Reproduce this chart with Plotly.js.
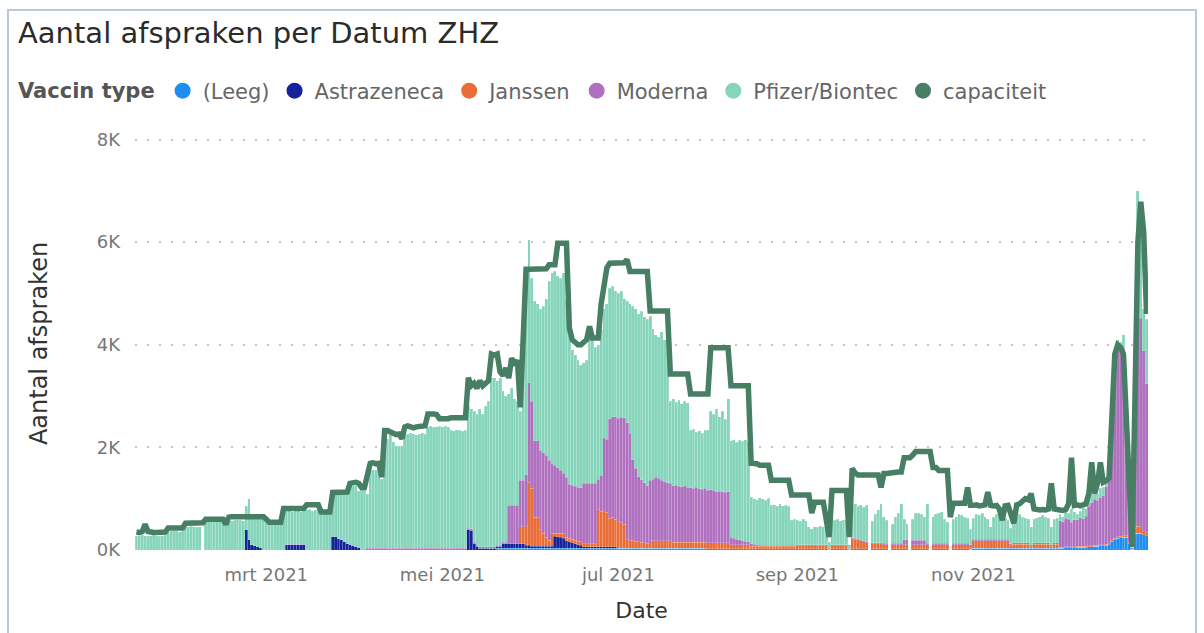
<!DOCTYPE html>
<html>
<head>
<meta charset="utf-8">
<script src="https://cdn.plot.ly/plotly-3.0.1.min.js"></script>
<style>
  html, body { margin: 0; padding: 0; background: #ffffff; }
  #chart { position: absolute; left: 0; top: 0; width: 1204px; height: 633px; }
  #frame { position: absolute; left: 7px; top: 9px; width: 1190px; height: 640px;
           border: 2px solid #b9c9da; box-sizing: border-box; pointer-events: none; }
</style>
</head>
<body>
<div id="chart"></div>
<div id="frame"></div>
<script>
// ---- Data (daily, 15 Jan 2021 .. 31 Dec 2021) ----
const startDate = '2021-01-15';
const dayCount = 351;

const seriesNames = ['(Leeg)', 'Astrazeneca', 'Janssen', 'Moderna', 'Pfizer/Biontec'];
const capacityName = 'capaciteit';

const leeg = [
  /*jan*/0,0,0,0,0,0,0,0,0,0,0,0,0,0,0,0,0,
  /*feb*/0,0,0,0,0,0,0,0,0,0,0,0,0,0,0,0,0,0,0,0,0,0,0,0,0,0,0,0,
  /*mrt*/0,0,0,0,0,0,0,0,0,0,0,0,0,0,0,0,0,0,0,0,0,0,0,0,0,0,0,0,0,0,0,
  /*apr*/0,0,0,0,0,0,0,0,0,0,0,0,0,0,0,0,0,0,0,0,0,0,0,0,0,0,0,0,0,0,
  /*mei*/0,0,0,0,0,0,0,0,0,0,0,0,0,0,0,0,0,0,0,30,30,30,30,30,30,30,30,30,30,30,30,
  /*jun*/30,30,30,30,30,30,30,30,30,30,30,30,30,30,30,30,30,30,30,30,30,30,30,30,30,30,30,30,30,30,
  /*jul*/30,30,30,30,30,30,30,30,30,30,30,30,30,30,30,30,30,30,30,30,30,30,30,30,30,30,30,30,30,30,30,
  /*aug*/20,20,20,20,20,20,20,20,20,20,20,20,20,20,20,20,20,20,20,20,20,20,20,20,20,20,20,20,20,20,20,
  /*sep*/20,20,20,20,20,20,20,20,20,20,20,10,20,20,20,20,20,20,10,20,20,20,20,20,20,0,20,20,20,20,
  /*okt*/20,20,0,20,20,20,20,20,20,0,20,20,20,20,20,20,0,20,20,20,20,20,20,0,20,20,20,20,20,20,10,
  /*nov*/30,30,30,30,30,30,30,30,30,30,30,30,30,30,30,30,30,30,30,30,30,30,30,30,30,30,30,30,30,30,
  /*dec*/30,30,40,40,40,40,50,50,50,50,60,60,70,70,80,80,90,100,170,200,230,240,250,250,120,10,300,330,330,300,280
];

const astrazeneca = [
  /*jan*/0,0,0,0,0,0,0,0,0,0,0,0,0,0,0,0,0,
  /*feb*/0,0,0,0,0,0,0,0,0,0,0,0,0,0,0,0,0,0,0,0,0,390,200,100,80,60,50,0,
  /*mrt*/0,0,0,0,0,0,0,110,110,110,110,110,110,110,0,0,0,0,0,0,0,0,0,270,260,230,200,160,130,110,90,
  /*apr*/70,50,0,0,0,0,0,0,0,0,0,0,0,0,0,0,0,0,0,0,0,0,0,0,0,0,0,0,0,0,
  /*mei*/0,0,0,0,0,0,0,0,0,390,380,120,60,30,30,30,30,30,30,30,30,90,90,90,90,90,90,90,90,60,60,
  /*jun*/40,40,40,40,40,40,40,40,240,230,220,200,150,130,110,90,70,60,30,30,30,30,30,30,30,30,30,30,30,30,
  /*jul*/0,0,0,0,0,0,0,0,0,0,0,0,0,0,0,0,0,0,0,0,0,0,0,0,0,0,0,0,0,0,0,
  /*aug*/0,0,0,0,0,0,0,0,0,0,0,0,0,0,0,0,0,0,0,0,0,0,0,0,0,0,0,0,0,0,0,
  /*sep*/0,0,0,0,0,0,0,0,0,0,0,0,0,0,0,0,0,0,0,0,0,0,0,0,0,0,0,0,0,0,
  /*okt*/0,0,0,0,0,0,0,0,0,0,0,0,0,0,0,0,0,0,0,0,0,0,0,0,0,0,0,0,0,0,0,
  /*nov*/0,0,0,0,0,0,0,0,0,0,0,0,0,0,0,0,0,0,0,0,0,0,0,0,0,0,0,0,0,0,
  /*dec*/0,0,0,0,0,0,0,0,0,0,0,0,0,0,0,0,0,0,0,0,0,0,0,0,0,0,0,0,0,0,0
];

const janssen = [
  /*jan*/0,0,0,0,0,0,0,0,0,0,0,0,0,0,0,0,0,
  /*feb*/0,0,0,0,0,0,0,0,0,0,0,0,0,0,0,0,0,0,0,0,0,0,0,0,0,0,0,0,
  /*mrt*/0,0,0,0,0,0,0,0,0,0,0,0,0,0,0,0,0,0,0,0,0,0,0,0,0,0,0,0,0,0,0,
  /*apr*/0,0,0,0,0,0,0,0,0,0,0,0,0,0,0,0,0,0,0,0,0,0,0,0,0,0,0,0,0,0,
  /*mei*/0,0,0,0,0,0,0,0,0,0,0,0,0,0,0,0,0,0,0,0,0,0,0,0,0,0,0,330,330,380,1230,
  /*jun*/1130,570,570,320,260,180,120,260,60,70,80,100,70,70,70,70,70,70,60,60,60,60,60,720,700,710,680,560,580,540,
  /*jul*/520,500,470,170,150,160,140,130,120,110,100,150,150,150,150,150,150,150,150,120,120,120,120,120,120,120,120,120,120,120,120,
  /*aug*/120,120,120,120,120,120,120,120,80,80,80,80,80,80,80,50,50,50,50,50,50,50,50,50,50,50,50,50,50,50,50,
  /*sep*/60,60,60,60,60,60,60,60,60,60,60,20,60,60,60,60,60,60,10,200,190,180,160,140,120,0,100,100,100,100,
  /*okt*/80,80,0,80,80,80,80,80,80,0,80,80,80,80,80,80,0,80,80,80,80,80,80,0,80,80,80,80,80,80,30,
  /*nov*/150,150,150,150,150,150,150,150,150,150,150,150,150,60,80,80,80,80,80,80,40,80,80,80,80,80,80,40,80,80,
  /*dec*/20,20,20,20,20,20,20,20,20,20,20,20,20,20,20,20,20,20,30,30,30,30,30,30,30,0,120,130,120,80,60
];

const moderna = [
  /*jan*/0,0,0,0,0,0,0,0,0,0,0,0,0,0,0,0,0,
  /*feb*/0,0,0,0,0,0,0,0,0,0,0,0,0,0,0,0,0,0,0,0,0,0,0,0,0,0,0,0,
  /*mrt*/0,0,0,0,0,0,0,0,0,0,0,0,0,0,0,0,0,0,0,0,0,0,0,0,0,0,0,0,0,0,0,
  /*apr*/0,0,0,0,30,30,30,30,30,30,30,30,30,30,30,30,30,30,30,30,30,30,30,30,30,30,30,30,30,30,
  /*mei*/30,30,30,30,30,30,30,30,30,30,30,30,30,30,30,30,30,30,30,30,30,30,30,750,750,750,750,910,910,1000,1940,
  /*jun*/1700,1490,1490,1550,1570,1600,1560,1360,1320,1270,1220,1170,1170,1050,1050,1050,1050,1050,1180,1180,1180,1180,1180,600,700,1420,1420,1940,1960,2000,
  /*jul*/2020,2060,2080,2280,2100,1570,1420,1270,1220,1170,1120,1180,1200,1240,1220,1180,1150,1130,1120,1100,1110,1090,1080,1100,1070,1060,1050,1070,1040,1030,1050,
  /*aug*/1020,1030,1020,1000,1010,1000,990,1000,150,130,110,100,80,70,60,50,40,30,20,20,20,20,20,20,20,20,20,20,20,20,20,
  /*sep*/20,20,20,20,20,20,20,20,20,20,20,10,20,20,20,20,20,20,10,20,20,20,20,20,20,0,20,20,20,20,
  /*okt*/30,30,0,30,30,30,30,100,100,0,90,90,90,90,90,30,0,30,30,30,30,30,30,0,30,30,30,30,30,30,60,
  /*nov*/30,30,30,30,30,30,30,30,30,30,30,30,30,30,30,30,30,30,30,30,30,30,30,30,30,30,30,30,30,30,
  /*dec*/520,500,560,540,480,530,520,560,540,590,770,840,900,880,920,960,1120,1780,2680,3550,3780,3700,3650,2150,880,30,2900,4170,4070,3500,2900
];

const pfizer = [
  /*jan*/270,280,290,280,270,280,290,280,270,280,290,360,370,380,370,360,370,
  /*feb*/440,450,460,450,440,450,0,550,560,570,560,550,560,570,480,580,570,580,590,580,570,460,800,550,520,540,550,600,
  /*mrt*/600,500,490,510,500,490,760,650,660,640,650,660,640,650,780,790,770,780,800,720,710,730,720,830,840,880,900,930,970,1140,1150,
  /*apr*/1180,1100,1240,1260,1070,1520,1530,1520,1540,1350,2120,2130,2220,2070,2000,1990,2000,2240,2230,2250,2240,2220,2240,2250,2230,2370,2380,2360,2370,2380,
  /*mei*/2370,2380,2360,2300,2290,2310,2300,2280,2300,2380,2340,2550,2560,2690,2590,2740,2840,3300,3300,3210,3260,2950,2850,2180,2280,2080,2030,1340,2640,4020,2790,
  /*jun*/2400,2720,2670,2760,2850,3050,3490,3710,3780,3750,3750,3900,3480,2920,2640,2560,2480,2390,2350,2400,2900,2800,2650,2620,2840,2510,2640,2540,2540,2450,
  /*jul*/2430,2450,2320,2370,2520,2990,3110,3170,3280,3240,3250,3200,2920,2780,2750,2890,2770,2840,1600,1700,1620,1680,1620,1650,1650,1120,1150,1080,1130,1100,1130,
  /*aug*/1170,1530,1490,1610,1450,1560,1420,1810,1880,1920,1890,1940,1940,1980,1940,910,890,880,930,910,880,920,780,790,760,810,770,780,760,490,510,
  /*sep*/480,460,500,470,350,300,350,340,360,350,480,110,460,480,500,470,490,480,70,630,670,630,680,650,710,0,420,560,640,760,
  /*okt*/520,450,0,370,520,590,770,400,300,0,410,530,530,510,460,770,0,520,570,590,620,470,420,0,470,520,570,550,510,490,300,
  /*nov*/410,490,470,510,440,390,240,430,490,470,440,410,370,300,460,510,560,500,480,460,350,460,480,510,540,500,480,350,460,480,
  /*dec*/130,100,160,120,260,160,110,130,210,140,150,180,160,130,180,160,170,100,70,70,60,80,270,120,70,10,180,2370,2180,820,1260
];

const capaciteit = [
  /*jan*/350,340,360,500,360,340,340,340,350,350,350,430,430,440,430,430,430,
  /*feb*/520,520,530,520,520,520,530,600,600,610,600,600,600,600,500,640,650,650,650,650,660,650,650,650,660,650,650,650,
  /*mrt*/600,540,540,540,540,540,810,810,810,810,810,810,810,810,880,880,880,880,880,740,740,740,740,1120,1120,1130,1120,1120,1130,1300,1310,
  /*apr*/1320,1300,1220,1220,1500,1690,1700,1680,1690,1420,2330,2330,2300,2270,2250,2260,2170,2400,2420,2400,2380,2400,2410,2400,2420,2650,2660,2650,2640,2560,
  /*mei*/2560,2550,2560,2580,2580,2580,2580,2580,2580,3360,3200,3250,3150,3300,3200,3250,3300,3820,3800,3820,3470,3400,3550,3350,3740,3600,3700,2780,4130,5470,5470,
  /*jun*/5470,5480,5470,5460,5470,5480,5560,5560,5560,5980,5980,5980,5980,4330,4100,4050,4000,4000,4050,4100,4360,4130,4130,4130,4790,5200,5500,5590,5590,5590,
  /*jul*/5590,5590,5600,5660,5430,5430,5430,5430,5430,5430,5430,4660,4660,4660,4660,4660,4660,4660,3430,3430,3430,3430,3430,3430,3430,3040,3040,3040,3040,3040,3040,
  /*aug*/3040,3940,3940,3940,3940,3940,3940,3940,3200,3200,3200,3200,3200,3200,3200,1690,1690,1680,1650,1650,1650,1650,1360,1360,1360,1360,1360,1360,1360,1070,1070,
  /*sep*/1070,1070,1070,1070,1070,720,930,930,930,930,600,250,1160,1160,1160,1160,1160,1160,250,1590,1500,1460,1460,1460,1460,1460,1460,1460,1460,1220,
  /*okt*/1490,1490,1500,1520,1520,1520,1520,1800,1800,1800,1850,1920,1920,1920,1920,1920,1920,1610,1610,1550,1550,1550,1550,640,910,910,910,910,910,1220,870,
  /*nov*/870,880,860,870,880,1130,870,860,870,800,580,860,870,700,520,880,900,950,1000,980,1100,800,780,780,790,780,800,1300,800,780,
  /*dec*/780,770,790,900,1800,870,880,860,870,900,1100,1710,1100,1300,1710,1320,1350,1400,2600,3820,4000,3950,3820,2580,1200,60,3000,6000,6790,6200,4600
];

const xTickVals = ['2021-03-01', '2021-05-01', '2021-07-01', '2021-09-01', '2021-11-01'];
const xTickText = ['mrt 2021', 'mei 2021', 'jul 2021', 'sep 2021', 'nov 2021'];
const yTickVals = [0, 2000, 4000, 6000, 8000];
const yTickText = ['0K', '2K', '4K', '6K', '8K'];

// ---- Build ----
const seriesValues = [leeg, astrazeneca, janssen, moderna, pfizer];
const seriesColors = ['#1E8EF5', '#14239C', '#E96D36', '#B070C0', '#86D5BB'];
const capacityColor = '#477F64';

const t0 = Date.parse(startDate + 'T00:00:00Z');
const dates = [];
for (let i = 0; i < dayCount; i++) {
  dates.push(new Date(t0 + i * 86400000).toISOString().slice(0, 10));
}

const traces = [];
seriesValues.forEach((vals, k) => {
  traces.push({
    type: 'bar', x: dates, y: vals, name: seriesNames[k],
    marker: { color: seriesColors[k], line: { width: 0.5, color: 'rgba(255,255,255,0.35)' } },
    showlegend: false
  });
});
traces.push({
  type: 'scatter', mode: 'lines', x: dates, y: capaciteit, name: capacityName,
  line: { color: capacityColor, width: 5.5, shape: 'linear' },
  showlegend: false
});
// legend entries (circle markers like the original)
seriesNames.concat([capacityName]).forEach((nm, k) => {
  traces.push({
    type: 'scatter', mode: 'markers', x: [null], y: [null], name: nm,
    marker: { color: k < 5 ? seriesColors[k] : capacityColor, size: 16, symbol: 'circle' },
    showlegend: true, hoverinfo: 'skip'
  });
});

const fontFam = '"DejaVu Sans", "Noto Sans", sans-serif';
const layout = {
  width: 1204, height: 633,
  paper_bgcolor: '#ffffff', plot_bgcolor: '#ffffff',
  font: { family: fontFam, color: '#777777' },
  margin: { l: 135, r: 56, t: 137, b: 83 },
  barmode: 'stack', bargap: 0,
  title: {
    text: 'Aantal afspraken per Datum ZHZ',
    font: { family: fontFam, size: 29, color: '#2b2b2b' },
    x: 18 / 1204, xref: 'container', xanchor: 'left',
    y: 1 - 33 / 633, yref: 'container', yanchor: 'middle'
  },
  legend: {
    orientation: 'h', xref: 'container', yref: 'container',
    x: 16 / 1204, xanchor: 'left', y: 1 - 91 / 633, yanchor: 'middle',
    font: { family: fontFam, size: 21, color: '#666666' },
    title: { text: '<b>Vaccin type</b>', font: { family: fontFam, size: 21, color: '#555555' }, side: 'left' },
    itemwidth: 30, traceorder: 'normal', bgcolor: 'rgba(0,0,0,0)'
  },
  xaxis: {
    type: 'date', range: ['2021-01-14 12:00', '2021-12-31 12:00'],
    tickmode: 'array', tickvals: xTickVals, ticktext: xTickText,
    showgrid: false, zeroline: false, showline: false, ticks: '',
    ticklabelstandoff: 12,
    tickfont: { family: fontFam, size: 18, color: '#777777' },
    title: { text: 'Date', font: { family: fontFam, size: 22, color: '#333333' }, standoff: 18 }
  },
  yaxis: {
    range: [0, 8050], tickmode: 'array', tickvals: yTickVals, ticktext: yTickText,
    showgrid: true, gridcolor: '#c4c4c4', griddash: '2px,10px', gridwidth: 2,
    zeroline: false, showline: false, ticks: '',
    ticklabelstandoff: 14,
    tickfont: { family: fontFam, size: 18, color: '#777777' },
    title: { text: 'Aantal afspraken', font: { family: fontFam, size: 24, color: '#333333' }, standoff: 42 }
  },
  showlegend: true
};

Plotly.newPlot('chart', traces, layout, { displayModeBar: false, staticPlot: true });
</script>
</body>
</html>
